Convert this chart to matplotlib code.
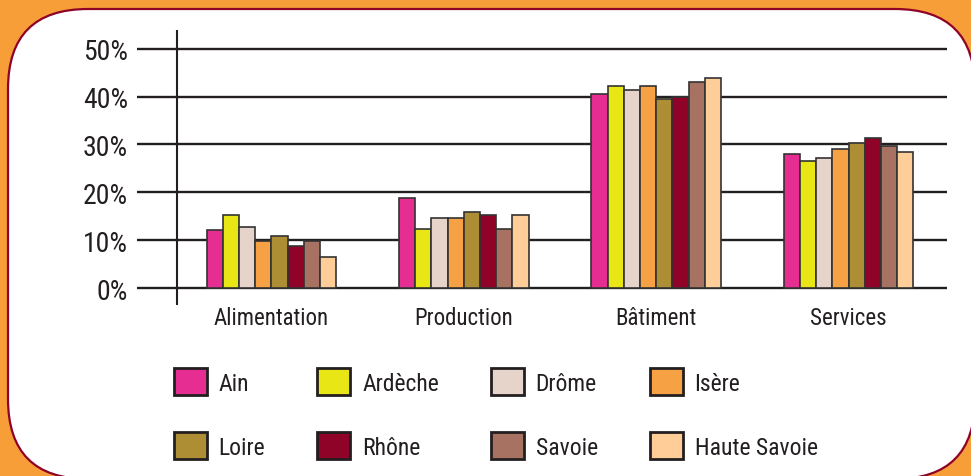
import matplotlib
matplotlib.use('Agg')
import matplotlib.pyplot as plt
import numpy as np
from matplotlib.patches import FancyBboxPatch, Patch

# Données (en %)
secteurs = ['Alimentation', 'Production', 'Bâtiment', 'Services']
departements = ['Ain', 'Ardèche', 'Drôme', 'Isère', 'Loire', 'Rhône', 'Savoie', 'Haute Savoie']
ain = [12.1, 18.9, 40.6, 28.0]
ardeche = [15.3, 12.4, 42.3, 26.5]
drome = [12.8, 14.6, 41.3, 27.2]
isere = [9.9, 14.6, 42.2, 29.1]
loire = [10.8, 15.8, 39.4, 30.2]
rhone = [8.8, 15.2, 39.8, 31.4]
savoie = [9.8, 12.3, 43.1, 29.6]
haute_savoie = [6.5, 15.2, 43.9, 28.4]
y_ticks = [0, 10, 20, 30, 40, 50]

series = [ain, ardeche, drome, isere, loire, rhone, savoie, haute_savoie]
couleurs = ['#E52D92', '#E8E614', '#E6D4CA', '#F7A145', '#AD8E34', '#8E0327', '#A87262', '#FECD98']

txt = '#231F20'
plt.rcParams['font.family'] = ['Roboto Condensed', 'DejaVu Sans']

fig = plt.figure(figsize=(9.71, 4.77), dpi=100)
fig.patch.set_facecolor('#F79E38')

# Cadre blanc aux coins arrondis
cadre = FancyBboxPatch((0.08, -0.03), 9.67, 4.70,
                       boxstyle='round,pad=0,rounding_size=0.8',
                       transform=fig.dpi_scale_trans, facecolor='white',
                       edgecolor='#8E0327', linewidth=1.6, zorder=-1)
fig.patches.append(cadre)

ax = fig.add_axes([0.1411, 0.3585, 0.8342, 0.5765])
ax.set_facecolor('none')

x = np.arange(len(secteurs))
largeur = 0.0842
for i, (vals, col) in enumerate(zip(series, couleurs)):
    pos = x + (i - 3.5) * largeur
    ax.bar(pos, vals, largeur, color=col, edgecolor='#333333', linewidth=1.2, zorder=3)

ax.set_xlim(-0.698, 3.512)
ax.set_ylim(-3.55, 53.9)

# Lignes horizontales
for t in y_ticks:
    ax.axhline(t, color=txt, linewidth=1.7, zorder=1)
ax.axvline(-0.49, color=txt, linewidth=1.5, zorder=1)

ax.set_yticks(y_ticks)
ax.set_yticklabels([f'{t}%' for t in y_ticks], fontsize=20, color=txt)
ax.set_xticks(x)
ax.set_xticklabels(secteurs, fontsize=16.5, color=txt)
ax.tick_params(axis='both', length=0)
ax.tick_params(axis='y', pad=6.5)
ax.tick_params(axis='x', pad=1)
for s in ax.spines.values():
    s.set_visible(False)

# Légende (remplie par colonnes)
ordre = [0, 4, 1, 5, 2, 6, 3, 7]
handles = [Patch(facecolor=couleurs[k], edgecolor=txt, linewidth=2) for k in ordre]
labels = [departements[k] for k in ordre]
leg = fig.legend(handles, labels, ncol=4, loc='upper left', bbox_to_anchor=(0.179, 0.226),
                 frameon=False, fontsize=17, handlelength=1.4, handleheight=1.4,
                 handletextpad=0.5, labelspacing=1.55, columnspacing=2.2,
                 borderpad=0, borderaxespad=0)
for t in leg.get_texts():
    t.set_color(txt)

fig.savefig('out.png', dpi=100, facecolor=fig.get_facecolor())
